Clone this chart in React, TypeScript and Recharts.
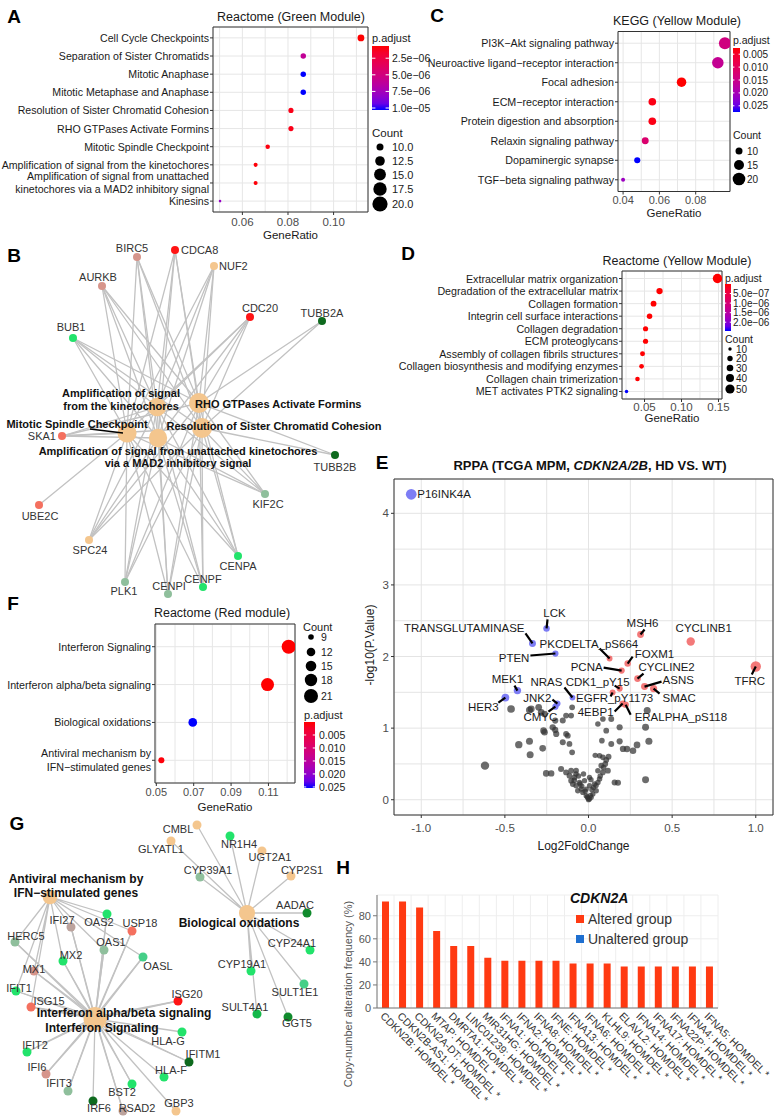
import React from 'react'
import { ScatterChart, Scatter, XAxis, YAxis, CartesianGrid, ReferenceArea, BarChart, Bar } from 'recharts'

const FONT = '"Liberation Sans", Arial, Helvetica, sans-serif'

// ---------- A: Reactome (Green Module) ----------
const aTerms = [
  'Cell Cycle Checkpoints',
  'Separation of Sister Chromatids',
  'Mitotic Anaphase',
  'Mitotic Metaphase and Anaphase',
  'Resolution of Sister Chromatid Cohesion',
  'RHO GTPases Activate Formins',
  'Mitotic Spindle Checkpoint',
  'Amplification of signal from the kinetochores',
  'Amplification  of signal from unattached\nkinetochores via a MAD2  inhibitory signal',
  'Kinesins',
]
const aRatio = [0.112, 0.0867, 0.0867, 0.0867, 0.0813, 0.0813, 0.0711, 0.0658, 0.0658, 0.0502]
const aCount = [21, 16, 16, 16, 15, 15, 13, 12, 12, 9]
const aPadj = [6.6e-7, 6.0e-6, 1.03e-5, 1.03e-5, 1.1e-6, 1.1e-6, 9e-7, 8e-7, 8e-7, 8.0e-6]

// ---------- C: KEGG (Yellow Module) ----------
const cTerms = [
  'PI3K−Akt signaling pathway',
  'Neuroactive ligand−receptor interaction',
  'Focal adhesion',
  'ECM−receptor interaction',
  'Protein digestion and absorption',
  'Relaxin signaling pathway',
  'Dopaminergic synapse',
  'TGF−beta signaling pathway',
]
const cRatio = [0.0961, 0.0922, 0.0722, 0.0561, 0.0561, 0.0522, 0.0478, 0.04]
const cCount = [20, 19, 15, 12, 12, 11, 10, 8]
const cPadj = [0.014, 0.016, 0.0026, 0.0035, 0.0035, 0.012, 0.0274, 0.021]

// ---------- D: Reactome (Yellow Module) ----------
const dTerms = [
  'Extracellular matrix organization',
  'Degradation of the extracellular matrix',
  'Collagen formation',
  'Integrin cell surface interactions',
  'Collagen degradation',
  'ECM proteoglycans',
  'Assembly of collagen fibrils structures',
  'Collagen biosynthesis and modifying enzymes',
  'Collagen chain trimerization',
  'MET activates PTK2 signaling',
]
const dRatio = [0.1486, 0.0703, 0.0622, 0.0568, 0.0514, 0.0514, 0.0473, 0.046, 0.0405, 0.0257]
const dCount = [50, 24, 21, 19, 17, 17, 16, 15, 14, 9]
const dPadj = [1e-20, 2e-11, 3e-10, 1e-9, 5e-10, 2e-9, 8e-9, 1.5e-8, 1e-8, 2.46e-6]

// ---------- F: Reactome (Red module) ----------
const fTerms = [
  'Interferon Signaling',
  'Interferon alpha/beta signaling',
  'Biological oxidations',
  'Antiviral mechanism by\nIFN−stimulated genes',
]
const fRatio = [0.1208, 0.1095, 0.0695, 0.0527]
const fCount = [21, 19, 12, 9]
const fPadj = [1e-9, 1e-7, 0.0254, 0.0004]

// ---------- E: RPPA volcano ----------
const upGenes = ['MSH6', 'CYCLINB1', 'TFRC', 'PKCDELTA_pS664', 'FOXM1', 'PCNA', 'CYCLINE2', 'ASNS', 'SMAC', 'CDK1_pY15', 'EGFR_pY1173', '4EBP1', 'ERALPHA_pS118']
const upFC = [0.311, 0.611, 1.0, 0.126, 0.234, 0.198, 0.293, 0.335, 0.389, 0.186, 0.144, 0.204, 0.222]
const upLogP = [2.308, 2.21, 1.86, 1.972, 1.902, 1.804, 1.692, 1.58, 1.552, 1.552, 1.497, 1.343, 1.328]
const downGenes = ['P16INK4A', 'LCK', 'TRANSGLUTAMINASE', 'PTEN', 'MEK1', 'HER3', 'NRAS', 'JNK2', 'CMYC']
const downFC = [-1.06, -0.251, -0.335, -0.198, -0.425, -0.497, -0.096, -0.186, -0.198]
const downLogP = [4.266, 2.392, 2.182, 2.042, 1.524, 1.427, 1.427, 1.343, 1.3]
const nsFC = [
  -0.463, -0.343, -0.298, -0.283, -0.263, -0.199, -0.134, -0.104, -0.154, -0.098, 0.056, 0.086, 0.136, 0.186, 0.351, 0.341,
  -0.269, -0.214, -0.263, -0.199, -0.193, -0.134, -0.124, -0.154, -0.114, -0.098, -0.417, -0.353, -0.349, -0.274, 0.08, 0.136,
  0.186, 0.206, 0.23, 0.266, 0.29, 0.361, 0.066, 0.086, 0.106, 0.076, 0.056, -0.619, -0.253, -0.223, -0.164, -0.134, -0.114,
  -0.104, -0.084, -0.094, -0.074, -0.054, -0.044, -0.064, -0.034, -0.014, -0.004, 0.006, 0.016, 0.026, 0.046, 0.036, 0.056,
  0.066, 0.086, 0.116, 0.156, 0.176, 0.341, -0.014, 0.006, -0.024, -0.074, -0.104, 0.006, 0.106, -0.353, -0.02, 0.02, -0.04,
  0.03, -0.05, 0.045, -0.085, 0.07, -0.06, 0.09, 0.1, -0.075, 0.12, -0.03, 0.015, 0.0, -0.008, 0.012, 0.04,
]
const nsLogP = [
  1.268, 1.268, 1.291, 1.221, 1.198, 1.105, 1.175, 1.175, 1.105, 1.291, 1.058, 1.128, 1.128, 1.012, 1.245, 1.012,
  0.965, 1.011, 0.942, 0.974, 0.919, 0.919, 0.895, 0.802, 0.779, 0.662, 0.769, 0.816, 0.629, 0.718, 0.825, 0.779,
  0.816, 0.709, 0.709, 0.685, 0.765, 0.816, 0.615, 0.592, 0.555, 0.476, 0.406, 0.476, 0.368, 0.368, 0.429, 0.382, 0.336,
  0.266, 0.312, 0.219, 0.196, 0.242, 0.149, 0.126, 0.102, 0.056, 0.023, 0.009, 0.033, 0.079, 0.126, 0.219, 0.242,
  0.289, 0.382, 0.406, 0.242, 0.237, 0.28, 0.149, 0.196, 0.266, 0.406, 0.406, 0.312, 0.965, 1.254, 0.12, 0.14, 0.19,
  0.17, 0.22, 0.2, 0.27, 0.33, 0.33, 0.45, 0.5, 0.36, 0.6, 0.36, 0.28, 0.0, 0.04, 0.06, 0.62,
]
// text offset (dx, dy, anchor) and optional segment end (sx, sy), in px relative to the point
const volcanoLabelPos: Record<string, [number, number, string, number?, number?]> = {
  P16INK4A: [6, 0, 'start'],
  LCK: [8, -15, 'middle', 1, -9],
  TRANSGLUTAMINASE: [-8, -15, 'end', -7, -10],
  PTEN: [-26, 4, 'end', -25, 2],
  PKCDELTA_pS664: [-70, -15, 'start', -10, -10],
  FOXM1: [7, -10, 'start', 5, -7],
  PCNA: [-19, -4, 'end', -18, -3],
  CYCLINE2: [1, -12, 'start', 6, -5],
  ASNS: [18, -7, 'start', 17, -5],
  SMAC: [9, 9, 'start', 6, 5],
  CDK1_pY15: [-22, -7, 'middle', -5, -3],
  NRAS: [-10, -16, 'end', -8, -10],
  EGFR_pY1173: [2, 5, 'middle', -2, 4],
  JNK2: [-6, -6, 'end', -5, -4],
  CMYC: [-15, 10, 'middle', -7, 5],
  '4EBP1': [-27, 8, 'middle', -8, 8],
  ERALPHA_pS118: [9, 12, 'start', 5, 10],
  MEK1: [-10, -12, 'middle', -3, -5],
  HER3: [-22, 9, 'middle', -7, 5],
  MSH6: [2, -11, 'middle', 4, -5],
  CYCLINB1: [13, -13, 'middle'],
  TFRC: [-6, 14, 'middle', -4, 8],
}

// ---------- B: gene-concept network (green module) ----------
const bHubs = [
  'Amplification of signal from the kinetochores',
  'RHO GTPases Activate Formins',
  'Mitotic Spindle Checkpoint',
  'Amplification of signal from unattached kinetochores via a MAD2 inhibitory signal',
  'Resolution of Sister Chromatid Cohesion',
]
const bHubX = [157, 199, 127, 158, 202]
const bHubY = [407, 403, 433, 438, 428]
const bGenes = ['BIRC5', 'CDCA8', 'NUF2', 'AURKB', 'CDC20', 'TUBB2A', 'BUB1', 'SKA1', 'TUBB2B', 'UBE2C', 'KIF2C', 'SPC24', 'CENPA', 'PLK1', 'CENPI', 'CENPF']
const bGeneX = [137, 175, 214, 102, 250, 322, 73, 62, 335, 39, 265, 89, 238, 125, 168, 203]
const bGeneY = [257, 250, 266, 286, 317, 321, 338, 436, 455, 505, 494, 540, 556, 582, 594, 587]
const bGeneTone = ['rose', 'red', 'tan', 'rose', 'red', 'dark', 'green', 'salmon', 'dark', 'salmon', 'sage', 'tan', 'green', 'sage', 'sage', 'green']
const bCore = ['BIRC5', 'CDCA8', 'NUF2', 'AURKB', 'CDC20', 'BUB1', 'SKA1', 'SPC24', 'CENPA', 'CENPF', 'CENPI', 'PLK1', 'KIF2C']
const bLinks = [
  bCore,
  [...bCore, 'TUBB2A', 'TUBB2B'],
  [...bCore, 'UBE2C'],
  bCore,
  [...bCore, 'TUBB2A', 'TUBB2B'],
]

// ---------- G: gene-concept network (red module) ----------
const gHubs = ['Antiviral mechanism by IFN-stimulated genes', 'Interferon alpha/beta signaling', 'Interferon Signaling', 'Biological oxidations']
const gHubX = [50, 95, 95, 247]
const gHubY = [897, 1017, 1019, 913]
const gGenes = [
  'IFI27', 'OAS2', 'USP18', 'HERC5', 'OAS1', 'OASL', 'MX2', 'MX1', 'IFIT1', 'ISG15', 'ISG20', 'HLA-G', 'IFIT2', 'IFITM1',
  'HLA-F', 'IFI6', 'IFIT3', 'BST2', 'IRF6', 'RSAD2', 'GBP3',
  'CMBL', 'GLYATL1', 'NR1H4', 'UGT2A1', 'CYP2S1', 'CYP39A1', 'AADAC', 'CYP24A1', 'CYP19A1', 'SULT1E1', 'SULT4A1', 'GGT5',
]
const gGeneX = [71, 107, 132, 15, 104, 143, 63, 34, 16, 31, 178, 182, 27, 189, 164, 46, 68, 132, 93, 123, 176, 197, 171, 230, 262, 291, 200, 307, 310, 251, 304, 257, 288]
const gGeneY = [927, 914, 931, 942, 950, 957, 961, 971, 991, 1007, 1001, 1032, 1052, 1062, 1077, 1074, 1091, 1084, 1101, 1111, 1111, 825, 841, 836, 851, 876, 877, 913, 950, 971, 984, 1014, 1017]
const gGeneTone = [
  'taupe', 'green', 'salmon', 'sage', 'sage', 'mint', 'green', 'rose', 'green', 'salmon', 'red', 'green', 'green', 'dark',
  'green', 'rose', 'sage', 'green', 'dark', 'taupe', 'tan',
  'tan', 'tan', 'green', 'tan', 'tan', 'sage', 'forest', 'green', 'green', 'mint', 'mid', 'forest',
]
const gAntiviral = ['IFI27', 'OAS2', 'USP18', 'HERC5', 'OAS1', 'OASL', 'MX2', 'MX1', 'IFIT1', 'ISG15']
const gLinks = [
  gAntiviral,
  [...gAntiviral, 'ISG20', 'IFIT2', 'IFI6', 'IFIT3', 'BST2', 'RSAD2', 'IFITM1'],
  [...gAntiviral, 'ISG20', 'HLA-G', 'IFIT2', 'IFITM1', 'HLA-F', 'IFI6', 'IFIT3', 'BST2', 'IRF6', 'RSAD2', 'GBP3'],
  ['CMBL', 'GLYATL1', 'NR1H4', 'UGT2A1', 'CYP2S1', 'CYP39A1', 'AADAC', 'CYP24A1', 'CYP19A1', 'SULT1E1', 'SULT4A1', 'GGT5'],
]

// ---------- H: copy-number alteration frequency ----------
const hGenes = [
  'CDKN2B', 'CDKN2B-AS1', 'CDKN2A-DT', 'MTAP', 'DMRTA1', 'LINC01239', 'MIR31HG', 'IFNA1', 'IFNA2', 'IFNA8', 'IFNE',
  'IFNA13', 'IFNA6', 'KLHL9', 'ELAVL2', 'IFNA14', 'IFNA17', 'IFNA22P', 'IFNA4', 'IFNA5',
]
const hFreq = [92.3, 92.3, 87.2, 66.7, 53.8, 53.8, 43.6, 41.0, 41.0, 41.0, 41.0, 38.5, 38.5, 38.5, 35.9, 35.9, 35.9, 35.9, 35.9, 35.9]

// ---------- styles ----------
const TONE: Record<string, string> = {
  rose: '#d6958b', red: '#ff1414', tan: '#f4c68e', green: '#22e36b', dark: '#0e6a1e', salmon: '#f4705f',
  sage: '#8fbf9c', taupe: '#bca39d', mint: '#45cf88', mid: '#14b84a', forest: '#108a2c',
}
const HUB_FILL = '#f4c68e'

const bGeneLabel: Record<string, [number, number, string]> = {
  BIRC5: [-5, -9, 'middle'], CDCA8: [6, 0, 'start'], NUF2: [5, 0, 'start'], AURKB: [-4, -9, 'middle'],
  CDC20: [10, -9, 'middle'], TUBB2A: [0, -8, 'middle'], BUB1: [-2, -11, 'middle'], SKA1: [-6, 0, 'end'],
  TUBB2B: [0, 12, 'middle'], UBE2C: [1, 11, 'middle'], KIF2C: [3, 10, 'middle'], SPC24: [1, 10, 'middle'],
  CENPA: [0, 10, 'middle'], PLK1: [-1, 9, 'middle'], CENPI: [1, -8, 'middle'], CENPF: [0, -8, 'middle'],
}
const bHubLabel: Record<string, any> = {
  [bHubs[0]]: { lines: ['Amplification of signal', 'from the kinetochores'], dx: -36, dy: -14, anchor: 'middle', gap: 13 },
  [bHubs[1]]: { lines: ['RHO GTPases Activate Formins'], dx: -4, dy: 1, anchor: 'start' },
  [bHubs[2]]: { lines: ['Mitotic Spindle Checkpoint'], dx: -50, dy: -9, anchor: 'middle', seg: [-37, -4, -4, 0] },
  [bHubs[3]]: { lines: ['Amplification of signal from unattached kinetochores', 'via a MAD2  inhibitory signal'], dx: 20, dy: 13, anchor: 'middle', gap: 12 },
  [bHubs[4]]: { lines: ['Resolution of Sister Chromatid Cohesion'], dx: 72, dy: -2, anchor: 'middle' },
}
const gGeneLabel: Record<string, [number, number, string]> = {
  IFI27: [-9, -7, 'middle'], OAS2: [-8, 8, 'middle'], USP18: [8, -8, 'middle'], HERC5: [11, -6, 'middle'],
  OAS1: [7, -8, 'middle'], OASL: [15, 9, 'middle'], MX2: [8, -6, 'middle'], MX1: [0, -2, 'middle'],
  IFIT1: [3, -3, 'middle'], ISG15: [18, -6, 'middle'], ISG20: [9, -7, 'middle'], 'HLA-G': [-14, 9, 'middle'],
  IFIT2: [8, -7, 'middle'], IFITM1: [14, -8, 'middle'], 'HLA-F': [7, -7, 'middle'], IFI6: [-9, -7, 'middle'],
  IFIT3: [-9, -8, 'middle'], BST2: [-10, 8, 'middle'], IRF6: [6, 7, 'middle'], RSAD2: [14, -3, 'middle'],
  GBP3: [3, -8, 'middle'], CMBL: [-19, 4, 'middle'], GLYATL1: [-10, 8, 'middle'], NR1H4: [9, 8, 'middle'],
  UGT2A1: [8, 6, 'middle'], CYP2S1: [11, -6, 'middle'], CYP39A1: [8, -7, 'middle'], AADAC: [-12, -8, 'middle'],
  CYP24A1: [-18, -7, 'middle'], CYP19A1: [-9, -7, 'middle'], SULT1E1: [-9, 8, 'middle'], SULT4A1: [-12, -7, 'middle'],
  GGT5: [9, 6, 'middle'],
}
const gHubLabel: Record<string, any> = {
  [gHubs[0]]: { lines: ['Antiviral mechanism by', 'IFN−stimulated genes'], dx: 26, dy: -18, anchor: 'middle', gap: 14 },
  [gHubs[1]]: { lines: ['Interferon alpha/beta signaling'], dx: 29, dy: -4, anchor: 'middle' },
  [gHubs[2]]: { lines: ['Interferon Signaling'], dx: 7, dy: 9, anchor: 'middle' },
  [gHubs[3]]: { lines: ['Biological oxidations'], dx: -8, dy: 10, anchor: 'middle' },
}

// ---------- colour scale (ggplot red -> blue, interpolated in Lab) ----------
const lin = (c: number) => { const v = c / 255; return v <= 0.04045 ? v / 12.92 : Math.pow((v + 0.055) / 1.055, 2.4) }
const gam = (v: number) => {
  const c = v <= 0.0031308 ? 12.92 * v : 1.055 * Math.pow(Math.max(v, 0), 1 / 2.4) - 0.055
  return Math.round(Math.min(1, Math.max(0, c)) * 255)
}
const toLab = (r: number, g: number, b: number) => {
  const R = lin(r), G = lin(g), B = lin(b)
  const X = (0.4124 * R + 0.3576 * G + 0.1805 * B) / 0.95047
  const Y = 0.2126 * R + 0.7152 * G + 0.0722 * B
  const Z = (0.0193 * R + 0.1192 * G + 0.9505 * B) / 1.08883
  const f = (t: number) => (t > 0.008856 ? Math.cbrt(t) : 7.787 * t + 16 / 116)
  return [116 * f(Y) - 16, 500 * (f(X) - f(Y)), 200 * (f(Y) - f(Z))]
}
const fromLab = (L: number, a: number, b: number) => {
  const fy = (L + 16) / 116, fx = fy + a / 500, fz = fy - b / 200
  const inv = (t: number) => (t ** 3 > 0.008856 ? t ** 3 : (t - 16 / 116) / 7.787)
  const X = 0.95047 * inv(fx), Y = inv(fy), Z = 1.08883 * inv(fz)
  const R = 3.2406 * X - 1.5372 * Y - 0.4986 * Z
  const G = -0.9689 * X + 1.8758 * Y + 0.0415 * Z
  const B = 0.0557 * X - 0.204 * Y + 1.057 * Z
  return `rgb(${gam(R)},${gam(G)},${gam(B)})`
}
const LOW = toLab(255, 0, 0)
const HIGH = toLab(0, 0, 255)
const labRamp = (t: number) => {
  const u = Math.min(1, Math.max(0, t))
  return fromLab(LOW[0] + (HIGH[0] - LOW[0]) * u, LOW[1] + (HIGH[1] - LOW[1]) * u, LOW[2] + (HIGH[2] - LOW[2]) * u)
}
const padjScale = (vals: number[]) => {
  const lo = Math.min(...vals), hi = Math.max(...vals)
  return (v: number) => labRamp((v - lo) / (hi - lo))
}
const sizeScale = (counts: number[], r0: number, r1: number) => {
  const lo = Math.min(...counts), hi = Math.max(...counts)
  return (c: number) => Math.sqrt(r0 * r0 + ((c - lo) / (hi - lo)) * (r1 * r1 - r0 * r0))
}
const expand = (vals: number[]): [number, number] => {
  const lo = Math.min(...vals), hi = Math.max(...vals), pad = (hi - lo) * 0.05
  return [lo - pad, hi + pad]
}
const near = (list: number[], v: number) => list.some((m) => Math.abs(m - v) < 1e-9)

function DotPlot(p: any) {
  const n = p.terms.length
  const data = p.terms.map((term: string, i: number) => ({ term, ratio: p.ratio[i], count: p.count[i], padj: p.padj[i], row: n - i }))
  const rad = sizeScale(p.count, p.rMin, p.rMax)
  const col = padjScale(p.padj)
  const xDomain = expand(p.ratio)
  const xTicks = [...p.majors, ...p.minors].sort((a: number, b: number) => a - b)
  const rows = data.map((d: any) => d.row)
  return (
    <div style={{ position: 'absolute', left: p.left, top: p.top }}>
      <ScatterChart width={p.width} height={p.height} margin={p.margin}>
        <CartesianGrid stroke="#e6e6e6" />
        <XAxis type="number" dataKey="ratio" domain={xDomain} ticks={xTicks} interval={0} allowDataOverflow
          height={p.xHeight} axisLine={false} tickLine={false} tickSize={0} tickMargin={0}
          tick={(t: any) => near(p.majors, t.payload.value) ? (
            <g>
              <line x1={t.x} x2={t.x} y1={t.y} y2={t.y + 3} stroke="#333" />
              <text x={t.x} y={t.y + p.tickGap} textAnchor="middle" dominantBaseline="central" fontSize={p.tickSize} fill="#4d4d4d">
                {t.payload.value.toFixed(2)}
              </text>
            </g>
          ) : <g />}
          label={{ value: 'GeneRatio', position: 'insideBottom', offset: p.xLabelOffset, fill: '#1a1a1a', fontSize: 11.5 }} />
        <YAxis type="number" dataKey="row" domain={[0.4, n + 0.6]} ticks={rows} interval={0} allowDataOverflow
          width={p.yWidth} axisLine={false} tickLine={false} tickSize={0} tickMargin={0}
          tick={(t: any) => {
            const lines = p.terms[n - t.payload.value].split('\n')
            const first = -((lines.length - 1) * p.lineGap) / 2
            return (
              <g>
                <line x1={t.x - 3} x2={t.x} y1={t.y} y2={t.y} stroke="#333" />
                <text x={t.x - 4} y={t.y} textAnchor="end" dominantBaseline="central" fontSize={p.labelSize} fill="#1a1a1a">
                  {lines.map((l: string, i: number) => (
                    <tspan key={i} x={t.x - 4} dy={i === 0 ? first : p.lineGap}>{l}</tspan>
                  ))}
                </text>
              </g>
            )
          }} />
        <ReferenceArea x1={xDomain[0]} x2={xDomain[1]} y1={0.4} y2={n + 0.6} fill="none" stroke="#333" strokeWidth={1} />
        <Scatter data={data} isAnimationActive={false}
          shape={(s: any) => <circle cx={s.cx} cy={s.cy} r={rad(s.payload.count)} fill={col(s.payload.padj)} />} />
      </ScatterChart>
    </div>
  )
}

function Network(p: any) {
  const genes = p.genes.map((name: string, i: number) => ({ name, x: p.geneX[i], y: p.geneY[i], tone: p.tone[i] }))
  const hubs = p.hubs.map((name: string, i: number) => ({ name, x: p.hubX[i], y: p.hubY[i], n: p.links[i].length }))
  const byName: Record<string, any> = {}
  genes.forEach((g: any) => { byName[g.name] = g })
  return (
    <div style={{ position: 'absolute', left: p.left, top: p.top }}>
      <ScatterChart width={p.width} height={p.height} margin={{ top: 0, right: 0, bottom: 0, left: 0 }}>
        <XAxis type="number" dataKey="x" domain={p.xDomain} allowDataOverflow hide />
        <YAxis type="number" dataKey="y" domain={p.yDomain} allowDataOverflow reversed hide />
        {hubs.map((h: any, i: number) => (
          <Scatter key={'e' + i} data={p.links[i].flatMap((g: string) => [h, byName[g]])} isAnimationActive={false}
            line={{ stroke: '#c2c2c2', strokeWidth: 1.3 }} lineType="joint" shape={() => <g />} />
        ))}
        <Scatter data={genes} isAnimationActive={false}
          shape={(s: any) => {
            const [dx, dy, anchor] = p.geneLabel[s.payload.name]
            return (
              <g>
                <circle cx={s.cx} cy={s.cy} r={p.geneR} fill={TONE[s.payload.tone]} />
                <text x={s.cx + dx} y={s.cy + dy} textAnchor={anchor} dominantBaseline="central" fontSize={11} fill="#333">{s.payload.name}</text>
              </g>
            )
          }} />
        <Scatter data={hubs} isAnimationActive={false}
          shape={(s: any) => <circle cx={s.cx} cy={s.cy} r={p.hubR0 + p.hubRk * s.payload.n} fill={HUB_FILL} />} />
        <Scatter data={hubs} isAnimationActive={false}
          shape={(s: any) => {
            const spec = p.hubLabel[s.payload.name]
            const tx = s.cx + spec.dx
            return (
              <g>
                {spec.seg && (
                  <line x1={s.cx + spec.seg[0]} y1={s.cy + spec.seg[1]} x2={s.cx + spec.seg[2]} y2={s.cy + spec.seg[3]} stroke="#000" strokeWidth={1.3} />
                )}
                <text x={tx} y={s.cy + spec.dy} textAnchor={spec.anchor} dominantBaseline="central" fontSize={p.hubFont} fontWeight="bold" fill="#111">
                  {spec.lines.map((l: string, i: number) => (
                    <tspan key={i} x={tx} dy={i === 0 ? 0 : spec.gap}>{l}</tspan>
                  ))}
                </text>
              </g>
            )
          }} />
      </ScatterChart>
    </div>
  )
}

function Volcano() {
  const ns = nsFC.map((fc, i) => ({ fc, lp: nsLogP[i] }))
  const down = downGenes.map((name, i) => ({ name, fc: downFC[i], lp: downLogP[i] }))
  const up = upGenes.map((name, i) => ({ name, fc: upFC[i], lp: upLogP[i] }))
  const xDomain = expand([...nsFC, ...downFC, ...upFC])
  const yDomain = expand([...nsLogP, ...downLogP, ...upLogP])
  const xMajor = [-1, -0.5, 0, 0.5, 1]
  const yMajor = [0, 1, 2, 3, 4]
  const r = (fc: number) => 2.6 + 2.6 * Math.abs(fc)
  return (
    <div style={{ position: 'absolute', left: 355, top: 470 }}>
      <ScatterChart width={427} height={385} margin={{ top: 9, right: 9, bottom: 0, left: 0 }}>
        <CartesianGrid stroke="#e4e4e4" />
        <XAxis type="number" dataKey="fc" domain={xDomain} allowDataOverflow ticks={[-1, -0.75, -0.5, -0.25, 0, 0.25, 0.5, 0.75, 1]}
          interval={0} height={40} axisLine={false} tickLine={false} tickSize={0} tickMargin={0}
          tick={(t: any) => near(xMajor, t.payload.value) ? (
            <g>
              <line x1={t.x} x2={t.x} y1={t.y} y2={t.y + 3} stroke="#333" />
              <text x={t.x} y={t.y + 13} textAnchor="middle" dominantBaseline="central" fontSize={11.5} fill="#4d4d4d">{t.payload.value.toFixed(1)}</text>
            </g>
          ) : <g />}
          label={{ value: 'Log2FoldChange', position: 'insideBottom', offset: 5, fill: '#1a1a1a', fontSize: 12 }} />
        <YAxis type="number" dataKey="lp" domain={yDomain} allowDataOverflow ticks={[0, 0.5, 1, 1.5, 2, 2.5, 3, 3.5, 4]}
          interval={0} width={39} axisLine={false} tickLine={false} tickSize={0} tickMargin={0}
          tick={(t: any) => near(yMajor, t.payload.value) ? (
            <g>
              <line x1={t.x - 3} x2={t.x} y1={t.y} y2={t.y} stroke="#333" />
              <text x={t.x - 5} y={t.y} textAnchor="end" dominantBaseline="central" fontSize={11.5} fill="#4d4d4d">{t.payload.value}</text>
            </g>
          ) : <g />} />
        <ReferenceArea x1={xDomain[0]} x2={xDomain[1]} y1={yDomain[0]} y2={yDomain[1]} fill="none" stroke="#333" strokeWidth={1} />
        <Scatter data={ns} isAnimationActive={false}
          shape={(s: any) => <circle cx={s.cx} cy={s.cy} r={r(s.payload.fc)} fill="#333" fillOpacity={0.72} />} />
        <Scatter data={down} isAnimationActive={false}
          shape={(s: any) => <circle cx={s.cx} cy={s.cy} r={r(s.payload.fc)} fill="#6f6ff4" fillOpacity={0.9} />} />
        <Scatter data={up} isAnimationActive={false}
          shape={(s: any) => <circle cx={s.cx} cy={s.cy} r={r(s.payload.fc)} fill="#f26a6a" fillOpacity={0.9} />} />
        <Scatter data={[...down, ...up]} isAnimationActive={false}
          shape={(s: any) => {
            const [dx, dy, anchor, sx, sy] = volcanoLabelPos[s.payload.name]
            return (
              <g>
                {sx !== undefined && (
                  <line x1={s.cx} y1={s.cy} x2={s.cx + sx} y2={s.cy + (sy as number)} stroke="#000" strokeWidth={2.2} />
                )}
                <text x={s.cx + dx} y={s.cy + dy} textAnchor={anchor} dominantBaseline="central" fontSize={11.5} fill="#1a1a1a">{s.payload.name}</text>
              </g>
            )
          }} />
      </ScatterChart>
    </div>
  )
}

function CnaBars() {
  const data = hGenes.map((g, i) => ({ label: `${g}: HOMDEL *`, freq: hFreq[i] }))
  return (
    <div style={{ position: 'absolute', left: 340, top: 880 }}>
      <BarChart width={442} height={240} data={data} margin={{ top: 15, right: 64, bottom: 0, left: 0 }}>
        <CartesianGrid stroke="#eeeeee"
          verticalCoordinatesGenerator={(a: any) => {
            const o = a && a.offset
            if (!o) return []
            return hGenes.map((_, i) => o.left + (i * o.width) / hGenes.length).concat([o.left + o.width])
          }} />
        <XAxis dataKey="label" interval={0} height={112} tickLine={false} tickSize={0} tickMargin={0}
          axisLine={{ stroke: '#777' }}
          tick={(t: any) => (
            <text x={t.x - 3} y={t.y + 6} transform={`rotate(45, ${t.x - 3}, ${t.y + 6})`} dominantBaseline="central" fontSize={10.5} fill="#333">
              {t.payload.value}
            </text>
          )} />
        <YAxis type="number" domain={[0, 98]} ticks={[0, 20, 40, 60, 80]} allowDataOverflow width={37}
          axisLine={{ stroke: '#777' }} tickLine={false} tickSize={0} tickMargin={0}
          tick={(t: any) => (
            <g>
              <line x1={t.x - 4} x2={t.x} y1={t.y} y2={t.y} stroke="#777" />
              <text x={t.x - 6} y={t.y} textAnchor="end" dominantBaseline="central" fontSize={11} fill="#555">{t.payload.value}</text>
            </g>
          )} />
        <Bar dataKey="freq" fill="#ff3a12" barSize={7} isAnimationActive={false} />
      </BarChart>
    </div>
  )
}

function ColorBar(p: any) {
  const stops = [0, 0.1, 0.2, 0.3, 0.4, 0.5, 0.6, 0.7, 0.8, 0.9, 1]
  return (
    <g>
      <text x={p.x} y={p.titleY} fontSize={p.fs + 0.5} dominantBaseline="central" fill="#1a1a1a">p.adjust</text>
      <defs>
        <linearGradient id={p.id} x1="0" y1="0" x2="0" y2="1">
          {stops.map((t) => <stop key={t} offset={t} stopColor={labRamp(t)} />)}
        </linearGradient>
      </defs>
      <rect x={p.x} y={p.y} width={p.w} height={p.h} fill={`url(#${p.id})`} />
      {p.breaks.map((b: number, i: number) => {
        const yy = p.y + ((b - p.lo) / (p.hi - p.lo)) * p.h
        return (
          <g key={i}>
            <line x1={p.x} x2={p.x + p.w * 0.2} y1={yy} y2={yy} stroke="#fff" />
            <line x1={p.x + p.w * 0.8} x2={p.x + p.w} y1={yy} y2={yy} stroke="#fff" />
            <text x={p.lx} y={yy} fontSize={p.fs} dominantBaseline="central" fill="#1a1a1a">{p.labels[i]}</text>
          </g>
        )
      })}
    </g>
  )
}

function SizeKey(p: any) {
  return (
    <g>
      <text x={p.x} y={p.titleY} fontSize={p.fs + 0.5} dominantBaseline="central" fill="#1a1a1a">Count</text>
      {p.labels.map((l: string, i: number) => (
        <g key={i}>
          <circle cx={p.cx} cy={p.ys[i]} r={p.rs[i]} fill="#000" />
          <text x={p.lx} y={p.ys[i]} fontSize={p.fs} dominantBaseline="central" fill="#1a1a1a">{l}</text>
        </g>
      ))}
    </g>
  )
}

function Overlay() {
  const letter = (t: string, x: number, y: number) => (
    <text x={x} y={y} textAnchor="middle" dominantBaseline="central" fontSize={19} fontWeight="bold" fill="#000">{t}</text>
  )
  const title = (t: string, x: number, y: number, fs = 12) => (
    <text x={x} y={y} textAnchor="middle" dominantBaseline="central" fontSize={fs} fill="#1a1a1a">{t}</text>
  )
  const minMax = (v: number[]) => [Math.min(...v), Math.max(...v)]
  const [aLo, aHi] = minMax(aPadj)
  const [cLo, cHi] = minMax(cPadj)
  const [dLo, dHi] = minMax(dPadj)
  const [fLo, fHi] = minMax(fPadj)
  return (
    <svg width={782} height={1120} style={{ position: 'absolute', left: 0, top: 0, pointerEvents: 'none' }}>
      {letter('A', 14, 16)}
      {letter('B', 14, 255)}
      {letter('C', 437, 15)}
      {letter('D', 408, 253)}
      {letter('E', 382, 462)}
      {letter('F', 13, 603)}
      {letter('G', 17, 823)}
      {letter('H', 343, 867)}
      {title('Reactome (Green Module)', 291, 17, 12.5)}
      {title('KEGG (Yellow Module)', 677, 21, 12.5)}
      {title('Reactome (Yellow Module)', 677, 261, 12.5)}
      {title('Reactome (Red module)', 222, 613, 12.5)}
      <text x={590} y={465} textAnchor="middle" dominantBaseline="central" fontSize={13} fontWeight="bold" fill="#111">
        RPPA (TCGA MPM, <tspan fontStyle="italic">CDKN2A/2B</tspan>, HD VS.  WT)
      </text>
      <text x={370} y={645} transform="rotate(-90, 370, 645)" textAnchor="middle" dominantBaseline="central" fontSize={12} fill="#1a1a1a">-log10(P.Value)</text>
      <text x={348} y={994} transform="rotate(-90, 348, 994)" textAnchor="middle" dominantBaseline="central" fontSize={11} fill="#555">Copy-number alteration frequency (%)</text>

      <ColorBar id="gA" x={372} titleY={38} y={46} w={17} h={64} lo={aLo} hi={aHi} breaks={[2.5e-6, 5e-6, 7.5e-6, 1e-5]}
        labels={['2.5e−06', '5.0e−06', '7.5e−06', '1.0e−05']} lx={392} fs={10.5} />
      <SizeKey x={372} titleY={133} cx={380} ys={[147, 161, 174.5, 189, 204]} rs={[3.5, 4.8, 5.9, 6.7, 7.6]}
        labels={['10.0', '12.5', '15.0', '17.5', '20.0']} lx={392} fs={11} />

      <ColorBar id="gC" x={733} titleY={40} y={48} w={7} h={64} lo={cLo} hi={cHi} breaks={[0.005, 0.01, 0.015, 0.02, 0.025]}
        labels={['0.005', '0.010', '0.015', '0.020', '0.025']} lx={743} fs={10} />
      <SizeKey x={733} titleY={135} cx={739} ys={[151, 165, 179]} rs={[3.5, 5, 6.3]} labels={['10', '15', '20']} lx={747} fs={10} />

      <ColorBar id="gD" x={725} titleY={278} y={284} w={6} h={47} lo={dLo} hi={dHi} breaks={[5e-7, 1e-6, 1.5e-6, 2e-6]}
        labels={['5.0e−07', '1.0e−06', '1.5e−06', '2.0e−06']} lx={733} fs={10} />
      <SizeKey x={725} titleY={339} cx={730} ys={[349, 358.5, 368, 378, 389]} rs={[1.7, 2.7, 3.3, 4, 4.6]}
        labels={['10', '20', '30', '40', '50']} lx={736} fs={10} />

      <SizeKey x={303} titleY={627} cx={311} ys={[637, 652, 666, 680, 696]} rs={[2.8, 4.3, 5.3, 6.2, 7]}
        labels={['9', '12', '15', '18', '21']} lx={321} fs={10.5} />
      <ColorBar id="gF" x={304} titleY={715} y={722} w={11} h={66} lo={fLo} hi={fHi} breaks={[0.005, 0.01, 0.015, 0.02, 0.025]}
        labels={['0.005', '0.010', '0.015', '0.020', '0.025']} lx={319} fs={10.5} />

      <text x={570} y={898} fontSize={14} fontWeight="bold" fontStyle="italic" dominantBaseline="central" fill="#111">CDKN2A</text>
      <rect x={576} y={915} width={8} height={8} fill="#ff3a12" />
      <text x={588} y={919} fontSize={14} dominantBaseline="central" fill="#333">Altered group</text>
      <rect x={576} y={935} width={8} height={8} fill="#1e6fd0" />
      <text x={588} y={939} fontSize={14} dominantBaseline="central" fill="#333">Unaltered group</text>
    </svg>
  )
}

export default function App() {
  return (
    <div style={{ position: 'absolute', left: 0, top: 0, width: 782, height: 1120, background: '#fff', fontFamily: FONT, overflow: 'hidden' }}>
      <DotPlot left={0} top={0} width={430} height={250} margin={{ top: 27, right: 62, bottom: 5, left: 0 }}
        yWidth={213} xHeight={33} terms={aTerms} ratio={aRatio} count={aCount} padj={aPadj}
        majors={[0.06, 0.08, 0.1]} minors={[0.05, 0.07, 0.09, 0.11]} rMin={1.3} rMax={3.4}
        labelSize={10.6} lineGap={13} tickGap={10} tickSize={11.5} xLabelOffset={6} />
      <DotPlot left={400} top={0} width={382} height={225} margin={{ top: 31.5, right: 52, bottom: 3.5, left: 0 }}
        yWidth={218} xHeight={30} terms={cTerms} ratio={cRatio} count={cCount} padj={cPadj}
        majors={[0.04, 0.06, 0.08]} minors={[0.05, 0.07, 0.09]} rMin={2} rMax={6}
        labelSize={10.7} lineGap={12} tickGap={8} tickSize={11} xLabelOffset={4.5} />
      <DotPlot left={390} top={255} width={392} height={172} margin={{ top: 16, right: 60, bottom: 0, left: 0 }}
        yWidth={232} xHeight={28} terms={dTerms} ratio={dRatio} count={dCount} padj={dPadj}
        majors={[0.05, 0.1, 0.15]} minors={[0.025, 0.075, 0.125]} rMin={1.7} rMax={4.7}
        labelSize={10.7} lineGap={12} tickGap={8} tickSize={11.5} xLabelOffset={5} />
      <DotPlot left={0} top={600} width={340} height={215} margin={{ top: 24, right: 45, bottom: 2, left: 0 }}
        yWidth={155} xHeight={30} terms={fTerms} ratio={fRatio} count={fCount} padj={fPadj}
        majors={[0.05, 0.07, 0.09, 0.11]} minors={[0.06, 0.08, 0.1, 0.12]} rMin={3} rMax={7}
        labelSize={10.7} lineGap={14} tickGap={9} tickSize={11} xLabelOffset={2} />
      <Network left={0} top={225} width={390} height={375} xDomain={[0, 390]} yDomain={[225, 600]}
        hubs={bHubs} hubX={bHubX} hubY={bHubY} genes={bGenes} geneX={bGeneX} geneY={bGeneY} tone={bGeneTone}
        links={bLinks} geneLabel={bGeneLabel} hubLabel={bHubLabel} geneR={4} hubR0={4} hubRk={0.4} hubFont={11} />
      <Network left={0} top={815} width={345} height={305} xDomain={[0, 345]} yDomain={[815, 1120]}
        hubs={gHubs} hubX={gHubX} hubY={gHubY} genes={gGenes} geneX={gGeneX} geneY={gGeneY} tone={gGeneTone}
        links={gLinks} geneLabel={gGeneLabel} hubLabel={gHubLabel} geneR={4.5} hubR0={3.5} hubRk={0.38} hubFont={12} />
      <Volcano />
      <CnaBars />
      <Overlay />
    </div>
  )
}
